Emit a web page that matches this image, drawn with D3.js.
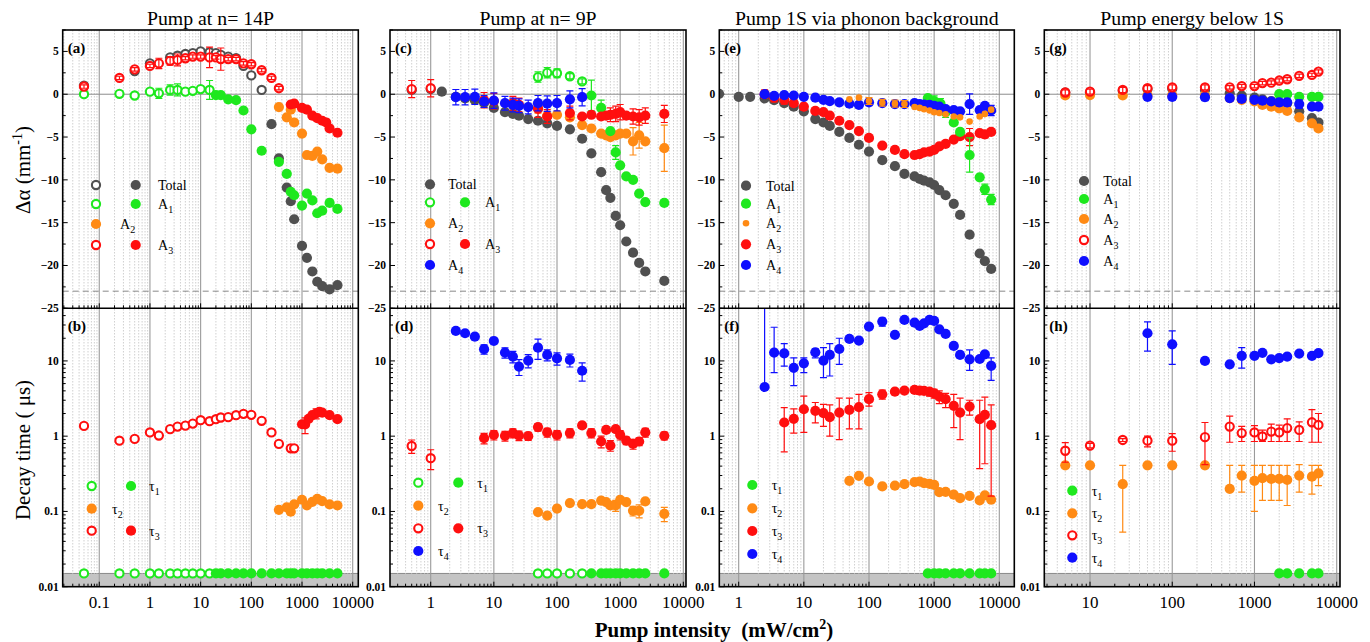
<!DOCTYPE html>
<html>
<head>
<meta charset="utf-8">
<script src="https://cdn.jsdelivr.net/npm/d3@7"></script>
<style>
  body { margin: 0; background: #fff; }
  svg { font-family: "Liberation Serif", "DejaVu Serif", serif; }
</style>
</head>
<body>
<svg id="chart" width="1370" height="642"></svg>
<script>
// ---- data (x = pump intensity mW/cm2) ----
// points: [x, y] or [x, y, err] or [x, y, lo, hi]
var titles = ["Pump at n= 14P", "Pump at n= 9P", "Pump 1S via phonon background", "Pump energy below 1S"];
var xTickLabels = [[0.1, 1, 10, 100, 1000, 10000], [1, 10, 100, 1000, 10000], [1, 10, 100, 1000, 10000], [10, 100, 1000, 10000]];
var yTopTicks = [5, 0, -5, -10, -15, -20, -25];
var yBotTicks = [0.01, 0.1, 1, 10];
var tauFloor = 0.015;   // tau1 sits at the resolution limit
var saturation = -23;   // dashed line

// (a)
var aTotalOpen = [[0.05,1.0],[0.5,2.7],[1,3.6],[2.5,4.3],[3.5,4.5],[5,4.7],[7,4.8],[10,5.0],[15,4.9],[20,4.8],[25,4.6],[35,4.4],[50,4.2],[70,3.3],[100,2.2],[160,0.5]];
var aTotal = [[250,-3.5],[350,-7.5],[500,-10.9],[600,-12.5],[700,-14.6],[1000,-17.7],[1250,-19.1],[1600,-20.7],[2000,-21.9],[2500,-22.4],[3500,-22.8],[5000,-22.3]];
var aA1Open = [[0.05,0.0],[0.25,0.05],[0.5,-0.15],[1,0.3],[1.5,0.1,0.6],[2.5,0.5,0.6],[3.5,0.5,0.7],[5,0.3],[7,0.4],[10,0.6],[15,0.5,1.1]];
var aA1 = [[20,-0.1],[25,-0.1],[35,-0.6],[50,-0.7],[70,-1.9],[100,-4.1],[160,-6.6],[350,-7.9],[500,-9.3],[600,-11.4],[700,-11.8],[1000,-13.0],[1250,-11.6],[1600,-12.4],[2000,-13.9],[2500,-13.6],[3500,-12.7],[5000,-13.4]];
var aA2 = [[350,-1.5],[500,-2.7],[600,-1.8],[700,-3.3],[1000,-4.6],[1250,-7.1],[1600,-7.2],[2000,-6.7],[2500,-7.6],[3500,-8.6],[5000,-8.7]];
var aA3Open = [[0.05,0.9,0.2],[0.25,1.9,0.2],[0.5,2.9,0.2],[1,3.3,0.2],[1.5,3.6,0.6],[2.5,3.9,0.5],[3.5,4.0,0.7],[5,4.2,0.2],[7,4.4,0.2],[10,4.4,0.2],[15,4.3,1.2],[20,4.3,0.2],[25,4.1,1.3],[35,4.1,0.2],[50,4.1,0.2],[70,3.6,0.2],[100,3.5,0.2],[160,2.8,0.2],[250,1.9,0.2],[350,0.7,0.2]];
var aA3 = [[600,-1.2],[700,-1.1],[1000,-1.6],[1250,-1.8,0.3],[1600,-2.5],[2000,-2.8],[2500,-3.1],[3000,-3.3],[3500,-4.0],[5000,-4.5]];

// (b)
var bT1OpenX = [0.05,0.25,0.5,1,1.5,2.5,3.5,5,7,10,15];
var bT1X = [20,25,35,50,70,100,160,250,350,500,600,700,1000,1250,1600,2000,2500,3500,5000];
var bT2 = [[350,0.105],[500,0.113],[600,0.099],[700,0.124],[1000,0.143],[1250,0.12],[1600,0.134],[2000,0.147],[2500,0.137],[3500,0.124],[5000,0.12]];
var bT3Open = [[0.05,1.37],[0.25,0.87],[0.5,0.92],[1,1.12],[1.5,1.02],[2.5,1.24],[3.5,1.34],[5,1.38],[7,1.47],[10,1.63],[15,1.58],[20,1.68],[25,1.77],[35,1.79],[50,1.9],[70,1.98],[100,1.92],[160,1.6],[250,1.12],[350,0.79],[600,0.69],[700,0.69]];
var bT3 = [[1000,1.44],[1150,1.43,1.08,1.75],[1350,1.7],[1600,1.9],[1900,2.0,1.7,2.3],[2200,2.1],[2500,2.05],[3500,1.9],[5000,1.68]];

// (c)
var cTotal = [[0.5,0.5],[1,0.6],[1.5,0.3],[2.5,-0.3],[3.5,-0.5],[5,-0.7],[7,-1.0],[10,-1.6],[15,-2.1],[20,-2.3],[25,-2.5],[35,-2.9],[50,-3.1],[70,-3.4],[100,-3.7],[160,-4.1],[250,-5.2],[350,-6.9],[500,-9.1],[600,-11.2],[700,-12.1],[850,-14.2],[1000,-15.3],[1250,-17.2],[1600,-18.5],[2000,-19.7],[2500,-20.7],[5000,-21.8]];
var cA1Open = [[50,2.0,0.6],[70,2.5,0.6],[100,2.45,0.5],[160,2.1,0.3],[250,1.5,0.3]];
var cA1 = [[350,-0.15,1.8],[500,-1.6,0.9],[700,-4.3],[850,-6.8,0.8],[1000,-8.3],[1250,-9.6],[1600,-10.0],[2000,-11.6],[2500,-12.6],[5000,-12.7]];
var cA2 = [[50,-1.6,0.6],[70,-2.5],[100,-2.4],[160,-2.7],[250,-3.6],[350,-4.0],[500,-4.6],[600,-4.8],[700,-5.0],[850,-4.8],[1000,-4.6],[1250,-4.6],[1600,-5.5,1.6],[2000,-4.8,1.5],[2500,-5.5],[5000,-6.3,2.7]];
var cA3Open = [[0.5,0.6,1.0],[1,0.7,1.0]];
var cA3 = [[7,-0.7,0.9],[10,-0.8,0.9],[20,-1.05,0.8],[25,-1.25,0.8],[50,-1.7,1.0],[70,-2.6,0.8],[160,-2.2,0.8],[250,-2.6],[350,-2.4],[500,-2.6],[600,-2.5],[700,-2.4,0.8],[850,-2.3,0.9],[1000,-2.1,0.9],[1250,-2.5],[1600,-2.6,0.9],[2000,-2.7,0.9],[2500,-2.5,0.9],[5000,-2.3,1.0]];
var cA4 = [[2.5,-0.35,0.9],[3.5,-0.35,0.9],[5,-0.3,0.9],[7,-0.85,0.7],[10,-0.75,0.9],[15,-1.05,0.8],[20,-1.25,0.8],[25,-1.35,0.8],[35,-1.5,0.8],[50,-1.05,0.9],[70,-1.1,0.9],[100,-1.05,0.9],[160,-0.6,1.0],[250,-0.35,1.0]];

// (d)
var dT1OpenX = [50,70,100,160,250];
var dT1X = [350,500,600,700,850,1000,1250,1600,2000,2500,5000];
var dT2 = [[50,0.098],[70,0.088],[100,0.109],[160,0.129],[250,0.125],[350,0.125,0.012],[500,0.139],[600,0.133],[700,0.12],[850,0.12,0.02],[1000,0.142],[1250,0.133],[1600,0.102,0.015],[2000,0.102,0.02],[2500,0.136],[5000,0.093,0.02]];
var dT3Open = [[0.5,0.74,0.15],[1,0.51,0.15]];
var dT3 = [[7,0.94,0.15],[10,1.04,0.15],[15,1.01,0.15],[20,1.1,0.15],[25,1.02,0.15],[35,1.0,0.12],[50,1.32,0.15],[70,1.12,0.15],[100,1.04,0.15],[160,1.1,0.15],[250,1.39,0.12],[350,1.1,0.15],[500,0.85,0.15],[600,1.21,0.1],[700,0.75,0.12],[850,1.24,0.1],[1000,1.04,0.15],[1250,0.87,0.1],[1600,0.79,0.12],[2000,0.85,0.1],[2500,1.12,0.15],[5000,1.01,0.12]];
var dT4 = [[2.5,25],[3.5,23.3],[5,21],[7,14.3,2],[10,18.4],[15,12.9,2],[20,11.4,2],[25,8.4,2],[35,10.1,2],[50,15,4.5],[70,12,2],[100,10.8,2],[160,10.3,2],[250,7.4,2]];

// (e)
var eTotal = [[0.5,0.05],[1,-0.3],[1.5,-0.3],[2.5,-0.5],[3.5,-0.7],[5,-1.05],[7,-1.45],[10,-2.0],[15,-2.9],[20,-3.3],[25,-3.7],[35,-4.4],[50,-5.1],[70,-5.9],[100,-6.7],[160,-7.7],[250,-8.4],[350,-9.3],[500,-9.6],[600,-9.9],[700,-10.1],[850,-10.3],[1000,-10.6],[1200,-11.2],[1500,-11.8],[2000,-12.8],[2500,-14.1],[3500,-16.4],[5000,-18.6],[6000,-19.5],[7500,-20.4]];
var eA1 = [[800,-0.45],[1000,-0.8,0.6],[1250,-1.1,0.6],[1500,-2.1,0.6],[2000,-3.3],[2500,-4.4],[3500,-7.1,2],[5000,-9.7],[6000,-11.1,0.6],[7500,-12.3,0.6]];
var eA2 = [[50,-0.6],[70,-0.4],[100,-0.8,0.4],[160,-1.0,0.4],[250,-1.1,0.4],[350,-1.15,0.4],[500,-1.5],[600,-1.6],[700,-1.75],[850,-1.9],[1000,-2.1],[1200,-2.2],[1500,-2.35],[2000,-2.6],[2500,-2.7],[3500,-3.2],[5000,-2.6],[6000,-2.3],[7500,-1.8]];
var eA3 = [[2.5,0,0.5],[3.5,-0.4,0.5],[5,-0.65,0.5],[7,-1.05],[10,-1.45],[15,-1.95],[20,-2.1],[25,-2.5],[35,-3.1],[50,-3.6],[70,-4.3],[100,-5.1],[160,-6.0],[250,-6.5],[350,-7.0],[500,-7.1],[600,-7.0],[700,-6.8],[850,-6.7],[1000,-6.5],[1200,-6.1],[1500,-5.8],[2000,-5.3],[2500,-4.9],[3500,-5.0,1.0],[5000,-4.55],[6000,-4.7,0.4],[7500,-4.4]];
var eA4 = [[2.5,0],[3.5,-0.2],[5,-0.1],[7,-0.15],[10,-0.3],[15,-0.4],[20,-0.65],[25,-0.8],[35,-0.95],[50,-1.1],[70,-1.25],[100,-0.95],[160,-1.05],[250,-1.15],[350,-1.15],[500,-1.05],[600,-1.15],[700,-1.2],[850,-1.25],[1000,-1.35],[1200,-1.45],[1500,-1.75],[2000,-1.85],[2500,-2.0],[3500,-1.15,1.2],[5000,-1.85],[6000,-1.35],[7500,-1.9,0.6]];

// (f)
var fT1X = [800,1000,1200,1500,2000,2500,3500,5000,6000,7500];
var fT2 = [[50,0.255],[70,0.297],[100,0.25],[160,0.215],[250,0.22],[350,0.23],[500,0.245],[600,0.25],[700,0.238],[850,0.233],[1000,0.226],[1200,0.18],[1500,0.182],[2000,0.167],[2500,0.15],[3500,0.161],[5000,0.14],[6000,0.163],[7500,0.143]];
var fT3 = [[5,1.52,0.62,2.4],[7,1.7,1.1,2.3],[10,2.28,1.12,3.4],[15,2.17,1.5,2.8],[20,2.02,1.35,2.65],[25,1.79,1.0,2.6],[35,2.06,0.9,3.2],[50,2.24,1.25,3.2],[70,2.43,1.25,3.6],[100,3.1,2.5,3.8],[160,3.6,3.1,4.1],[250,3.9,3.6,4.2],[350,4.04,3.7,4.3],[500,4.12,3.8,4.4],[600,4.04,3.6,4.4],[700,4.0,3.6,4.4],[850,3.9,3.4,4.3],[1000,3.7,3.2,4.2],[1200,3.36,2.7,4.0],[1500,3.1,2.4,3.7],[2000,2.53,1.3,3.6],[2500,2.06,0.9,3.2],[3500,2.47,1.9,3.0],[5000,1.68,0.37,3.0],[6000,1.92,0.43,3.3],[7500,1.4,0.16,2.6]];
var fT4 = [[2.5,4.5,4.5,60],[3.5,12.9,7,28],[5,12.6,8.5,17],[7,8.1,4.7,11],[10,9.3,7,11],[15,13.0,11,14.5],[20,10.1,6,15],[25,12.0,6.3,17],[35,14.4,9,20],[50,19.6],[70,18.6],[100,28.6],[160,33.3,29,37],[250,22.2],[350,35],[500,32.2],[600,29.2],[700,31.5],[850,35],[1000,34],[1200,26.3],[1500,22.8],[2000,15.8],[2500,12.0],[3500,10.5,7.5,14],[5000,10.6],[6000,12.2],[7500,8.6,5.5,11]];

// (g)
var gTotal = [[5,0.2],[10,0.23],[25,0.4],[50,0.6],[100,0.65],[250,0.5],[500,0.1],[700,-0.15],[1000,-0.4],[1250,-0.6],[1600,-0.8],[2000,-1.0],[2500,-1.05],[3500,-2.0],[5000,-2.8],[6000,-3.3]];
var gA1 = [[2000,0],[2500,0],[3500,-0.3],[5000,-0.3],[6000,-0.3]];
var gA2 = [[5,-0.15],[10,-0.1],[25,-0.15],[50,-0.1],[100,-0.1],[250,-0.1],[500,-0.45],[700,-0.65],[1000,-0.85],[1250,-1.25],[1600,-1.45],[2000,-1.65],[2500,-1.95],[3500,-2.7],[5000,-3.4],[6000,-4.0]];
var gA3Open = [[5,0.2,0.3],[10,0.3,0.3],[25,0.5,0.3],[50,0.7,0.3],[100,0.8,0.3],[250,0.8,0.3],[500,0.8,0.2],[700,0.95,0.2],[1000,0.95,0.2],[1250,1.3,0.2],[1600,1.35,0.2],[2000,1.6,0.2],[2500,1.75,0.2],[3500,2.15,0.2],[5000,2.25,0.2],[6000,2.65,0.2]];
var gA4 = [[50,-0.3,0.4],[100,-0.3,0.4],[250,-0.35,0.4],[500,-0.45,0.4],[700,-0.55,0.4],[1000,-0.65,0.3],[1250,-0.75,0.3],[1600,-0.85,0.3],[2000,-0.95,0.4],[2500,-0.95,0.4],[3500,-1.15,0.5],[5000,-1.45],[6000,-1.45]];

// (h)
var hT1X = [2000,2500,3500,5000,6000];
var hT2 = [[5,0.41],[10,0.41],[25,0.23,0.053,0.41],[50,0.41],[100,0.41],[250,0.41],[500,0.2,0.2,0.41],[700,0.3,0.18,0.41],[1000,0.255,0.1,0.41],[1250,0.277,0.14,0.41],[1600,0.27,0.14,0.41],[2000,0.27,0.14,0.41],[2500,0.263,0.12,0.41],[3500,0.3,0.18,0.42],[5000,0.29,0.17,0.41],[6000,0.32,0.22,0.41]];
var hT3Open = [[5,0.64,0.45,0.82],[10,0.75,0.7,0.8],[25,0.89,0.85,0.93],[50,0.87,0.72,1.0],[100,0.87,0.63,1.08],[250,0.97,0.42,1.52],[500,1.34,0.83,1.85],[700,1.1,0.85,1.35],[1000,1.12,0.85,1.38],[1250,0.99,0.85,1.2],[1600,1.15,0.85,1.45],[2000,1.12,0.85,1.4],[2500,1.28,0.85,1.7],[3500,1.21,0.85,1.55],[5000,1.53,0.83,2.25],[6000,1.41,0.83,2.0]];
var hT4 = [[50,23.3,13.5,33],[100,16.6,9,25],[250,10],[500,9.0],[700,11.7,8,15],[1000,11.7],[1250,12.8],[1600,10.5],[2000,10.9],[2500,11.4],[3500,12.5],[5000,11.7],[6000,12.7]];

// ---- style ----
var GRAY = "#505050", GREEN = "#1ee81e", ORANGE = "#ff8a14", RED = "#ff0f0f", BLUE = "#0f0fff";

function atFloor(xs) { return xs.map(function(x) { return [x, tauFloor]; }); }

// layout of the four columns (frame edges) and x domains
var cols = [
  {x0: 62.7,  x1: 358.3, dom: [0.019, 12900]},
  {x0: 390,   x1: 686,   dom: [0.2267, 11030]},
  {x0: 719.3, x1: 1014.3, dom: [0.504, 16990]},
  {x0: 1044.3, x1: 1340, dom: [2.78, 10970]}
];
var topY0 = 30, midY = 308.3, botY1 = 586.7;

var topSeries = [
  [ {d: aTotalOpen, c: GRAY, open: true}, {d: aA1Open, c: GREEN, open: true}, {d: aA3Open, c: RED, open: true},
    {d: aTotal, c: GRAY}, {d: aA1, c: GREEN}, {d: aA2, c: ORANGE}, {d: aA3, c: RED} ],
  [ {d: cTotal, c: GRAY}, {d: cA2, c: ORANGE}, {d: cA1Open, c: GREEN, open: true}, {d: cA1, c: GREEN},
    {d: cA3Open, c: RED, open: true}, {d: cA3, c: RED}, {d: cA4, c: BLUE} ],
  [ {d: eTotal, c: GRAY}, {d: eA3, c: RED}, {d: eA1, c: GREEN}, {d: eA4, c: BLUE}, {d: eA2, c: ORANGE, r: 3.3} ],
  [ {d: gTotal, c: GRAY}, {d: gA2, c: ORANGE}, {d: gA1, c: GREEN}, {d: gA4, c: BLUE}, {d: gA3Open, c: RED, open: true} ]
];
var botSeries = [
  [ {d: atFloor(bT1OpenX), c: GREEN, open: true}, {d: atFloor(bT1X), c: GREEN}, {d: bT2, c: ORANGE},
    {d: bT3Open, c: RED, open: true}, {d: bT3, c: RED} ],
  [ {d: atFloor(dT1OpenX), c: GREEN, open: true}, {d: atFloor(dT1X), c: GREEN}, {d: dT2, c: ORANGE},
    {d: dT3Open, c: RED, open: true}, {d: dT3, c: RED}, {d: dT4, c: BLUE} ],
  [ {d: atFloor(fT1X), c: GREEN}, {d: fT2, c: ORANGE}, {d: fT3, c: RED}, {d: fT4, c: BLUE} ],
  [ {d: atFloor(hT1X), c: GREEN}, {d: hT2, c: ORANGE}, {d: hT3Open, c: RED, open: true}, {d: hT4, c: BLUE} ]
];

// legends: rows of [y, marks [[x, color, open, r]], label, sub, textX]
var legends = [
  [ [185, [[96,GRAY,1],[135.7,GRAY,0]], "Total", "", 158], [204, [[96,GREEN,1],[135.7,GREEN,0]], "A", "1", 158],
    [224, [[96,ORANGE,0]], "A", "2", 120], [245, [[96,RED,1],[135.7,RED,0]], "A", "3", 158] ],
  [ [486, [[91.7,GREEN,1],[131,GREEN,0]], "τ", "1", 149], [508.7, [[91.7,ORANGE,0]], "τ", "2", 112],
    [530.7, [[91.7,RED,1],[131,RED,0]], "τ", "3", 149] ],
  [ [184.3, [[430,GRAY,0]], "Total", "", 448], [202.3, [[430,GREEN,1],[465,GREEN,0]], "A", "1", 485],
    [223.3, [[430,ORANGE,0]], "A", "2", 448], [244, [[430,RED,1],[465,RED,0]], "A", "3", 485],
    [265, [[430,BLUE,0]], "A", "4", 448] ],
  [ [482.7, [[418.3,GREEN,1],[458.3,GREEN,0]], "τ", "1", 477.3], [505.7, [[418.3,ORANGE,0]], "τ", "2", 438],
    [528.3, [[418.3,RED,1],[458.3,RED,0]], "τ", "3", 477.3], [551, [[418.3,BLUE,0]], "τ", "4", 438] ],
  [ [185.7, [[746,GRAY,0]], "Total", "", 766], [203.7, [[746,GREEN,0]], "A", "1", 766],
    [223.3, [[746,ORANGE,0,3.3]], "A", "2", 766], [244.3, [[746,RED,0]], "A", "3", 766], [265, [[746,BLUE,0]], "A", "4", 766] ],
  [ [485, [[752.3,GREEN,0]], "τ", "1", 771.7], [508.3, [[752.3,ORANGE,0]], "τ", "2", 771.7],
    [531, [[752.3,RED,0]], "τ", "3", 771.7], [554, [[752.3,BLUE,0]], "τ", "4", 771.7] ],
  [ [181, [[1084,GRAY,0]], "Total", "", 1103.3], [199, [[1084,GREEN,0]], "A", "1", 1103.3],
    [219, [[1084,ORANGE,0]], "A", "2", 1103.3], [240, [[1084,RED,1]], "A", "3", 1103.3], [261, [[1084,BLUE,0]], "A", "4", 1103.3] ],
  [ [490.7, [[1072.3,GREEN,0]], "τ", "1", 1091.7], [513.3, [[1072.3,ORANGE,0]], "τ", "2", 1091.7],
    [535.3, [[1072.3,RED,1]], "τ", "3", 1091.7], [557.7, [[1072.3,BLUE,0]], "τ", "4", 1091.7] ]
];
var letters = ["(a)", "(b)", "(c)", "(d)", "(e)", "(f)", "(g)", "(h)"];

var svg = d3.select("#chart");
var fmtTick = function(v) { return v < 0 ? "\u2212" + Math.abs(v) : String(v); };

function marker(g, x, y, color, open, r) {
  if (open) {
    g.append("circle").attr("cx", x).attr("cy", y).attr("r", r ? r - 0.7 : 4.1)
      .attr("fill", "#fff").attr("stroke", color).attr("stroke-width", 2.1);
  } else {
    g.append("circle").attr("cx", x).attr("cy", y).attr("r", r || 5.1).attr("fill", color);
  }
}

function drawPoints(g, xs, ys, series, isLog) {
  series.forEach(function(s) {
    var sg = g.append("g");
    s.d.forEach(function(p) {
      var px = xs(p[0]), py = ys(p[1]);
      marker(sg, px, py, s.c, s.open, s.r);
    });
    // error bars drawn over markers
    s.d.forEach(function(p) {
      if (p.length < 3) return;
      var lo = p.length === 4 ? p[2] : p[1] - p[2];
      var hi = p.length === 4 ? p[3] : p[1] + p[2];
      if (isLog && lo <= 0) lo = p[1];
      var px = xs(p[0]);
      var ylo = ys(lo), yhi = ys(hi);
      sg.append("line").attr("x1", px).attr("x2", px).attr("y1", ylo).attr("y2", yhi)
        .attr("stroke", s.c).attr("stroke-width", 1.2);
      [lo, hi].forEach(function(v) {
        if (v === p[1]) return;
        sg.append("line").attr("x1", px - 3.5).attr("x2", px + 3.5).attr("y1", ys(v)).attr("y2", ys(v))
          .attr("stroke", s.c).attr("stroke-width", 1.2);
      });
    });
  });
}

function logMinor(dom) {
  var out = [];
  for (var e = Math.floor(Math.log10(dom[0])); e <= Math.ceil(Math.log10(dom[1])); e++) {
    for (var k = 1; k <= 9; k++) {
      var v = k * Math.pow(10, e);
      if (v >= dom[0] && v <= dom[1]) out.push({v: v, major: k === 1});
    }
  }
  return out;
}

cols.forEach(function(col, ci) {
  var xs = d3.scaleLog().domain(col.dom).range([col.x0, col.x1]);
  var yTop = d3.scaleLinear().domain([-25, 7.5]).range([midY, topY0]);
  var yBot = d3.scaleLog().domain([0.01, 50]).range([botY1, midY]);
  var g = svg.append("g");

  var clipT = "clipT" + ci, clipB = "clipB" + ci;
  var defs = svg.append("defs");
  defs.append("clipPath").attr("id", clipT).append("rect")
    .attr("x", col.x0).attr("y", topY0).attr("width", col.x1 - col.x0).attr("height", midY - topY0);
  defs.append("clipPath").attr("id", clipB).append("rect")
    .attr("x", col.x0).attr("y", midY).attr("width", col.x1 - col.x0).attr("height", botY1 - midY);

  // gray band for the time resolution limit
  g.append("rect").attr("x", col.x0).attr("y", yBot(tauFloor)).attr("width", col.x1 - col.x0)
    .attr("height", botY1 - yBot(tauFloor)).attr("fill", "#c4c4c4");
  g.append("line").attr("x1", col.x0).attr("x2", col.x1).attr("y1", yBot(tauFloor)).attr("y2", yBot(tauFloor))
    .attr("stroke", "#8a8a8a").attr("stroke-width", 1);

  // vertical grid
  var grid = logMinor(col.dom);
  g.selectAll(".grid").data(grid).enter().append("line")
    .attr("x1", function(d) { return xs(d.v); }).attr("x2", function(d) { return xs(d.v); })
    .attr("y1", topY0).attr("y2", botY1)
    .attr("stroke", function(d) { return d.major ? "#9a9a9a" : "#c4c4c4"; })
    .attr("stroke-width", function(d) { return d.major ? 1.1 : 0.8; })
    .attr("stroke-dasharray", function(d) { return d.major ? null : "1.5,1.5"; });

  // zero and saturation lines
  g.append("line").attr("x1", col.x0).attr("x2", col.x1).attr("y1", yTop(0)).attr("y2", yTop(0))
    .attr("stroke", "#8c8c8c").attr("stroke-width", 1);
  g.append("line").attr("x1", col.x0).attr("x2", col.x1).attr("y1", yTop(saturation)).attr("y2", yTop(saturation))
    .attr("stroke", "#7a7a7a").attr("stroke-width", 0.9).attr("stroke-dasharray", "6,4");

  // ticks (inward)
  [midY, botY1].forEach(function(yb) {
    g.selectAll(null).data(grid).enter().append("line")
      .attr("x1", function(d) { return xs(d.v); }).attr("x2", function(d) { return xs(d.v); })
      .attr("y1", yb).attr("y2", function(d) { return yb - (d.major ? 5 : 3); })
      .attr("stroke", "#000").attr("stroke-width", 1);
  });
  d3.range(-25, 7.6, 2.5).forEach(function(v) {
    var major = v % 5 === 0;
    g.append("line").attr("x1", col.x0).attr("x2", col.x0 + (major ? 5 : 3))
      .attr("y1", yTop(v)).attr("y2", yTop(v)).attr("stroke", "#000").attr("stroke-width", 1);
  });
  logMinor([0.01, 50]).forEach(function(d) {
    g.append("line").attr("x1", col.x0).attr("x2", col.x0 + (d.major ? 5 : 3))
      .attr("y1", yBot(d.v)).attr("y2", yBot(d.v)).attr("stroke", "#000").attr("stroke-width", 1);
  });

  // tick labels
  g.selectAll(null).data(yTopTicks).enter().append("text")
    .attr("x", col.x0 - 4).attr("y", function(d) { return yTop(d) + 4; })
    .attr("text-anchor", "end").attr("font-size", 11.5).attr("font-weight", "bold")
    .text(fmtTick);
  g.selectAll(null).data(yBotTicks).enter().append("text")
    .attr("x", col.x0 - 4).attr("y", function(d) { return yBot(d) + 4; })
    .attr("text-anchor", "end").attr("font-size", 11.5).attr("font-weight", "bold")
    .text(function(d) { return String(d); });
  g.selectAll(null).data(xTickLabels[ci]).enter().append("text")
    .attr("x", function(d) { return xs(d); }).attr("y", 608)
    .attr("text-anchor", "middle").attr("font-size", 17)
    .text(function(d) { return String(d); });

  // data
  drawPoints(g.append("g").attr("clip-path", "url(#" + clipT + ")"), xs, yTop, topSeries[ci], false);
  drawPoints(g.append("g").attr("clip-path", "url(#" + clipB + ")"), xs, yBot, botSeries[ci], true);

  // frame
  g.append("rect").attr("x", col.x0).attr("y", topY0).attr("width", col.x1 - col.x0).attr("height", botY1 - topY0)
    .attr("fill", "none").attr("stroke", "#000").attr("stroke-width", 1.6);
  g.append("line").attr("x1", col.x0).attr("x2", col.x1).attr("y1", midY).attr("y2", midY)
    .attr("stroke", "#000").attr("stroke-width", 1.6);

  // panel letters and title
  g.append("text").attr("x", col.x0 + 5).attr("y", 53).attr("font-size", 15).attr("font-weight", "bold").text(letters[ci * 2]);
  g.append("text").attr("x", col.x0 + 5).attr("y", 331).attr("font-size", 15).attr("font-weight", "bold").text(letters[ci * 2 + 1]);
  g.append("text").attr("x", (col.x0 + col.x1) / 2).attr("y", 25).attr("text-anchor", "middle")
    .attr("font-size", 19.8).text(titles[ci]);
});

// legends
legends.forEach(function(rows) {
  var lg = svg.append("g");
  rows.forEach(function(row) {
    row[1].forEach(function(m) { marker(lg, m[0], row[0], m[1], m[2], m[3]); });
    var t = lg.append("text").attr("x", row[4]).attr("y", row[0] + 5).attr("font-size", 14).text(row[2]);
    if (row[3]) t.append("tspan").attr("font-size", 10).attr("dy", 4).text(row[3]);
  });
});

// axis titles
var yl1 = svg.append("text").attr("transform", "translate(30,170) rotate(-90)").attr("text-anchor", "middle")
  .attr("font-size", 21).text("\u0394\u03b1 (mm");
yl1.append("tspan").attr("font-size", 14).attr("dy", -8).text("-1");
yl1.append("tspan").attr("dy", 8).text(")");
svg.append("text").attr("transform", "translate(30,450) rotate(-90)").attr("text-anchor", "middle")
  .attr("font-size", 21).text("Decay time ( \u03bcs)");
var xl = svg.append("text").attr("x", 714).attr("y", 637).attr("text-anchor", "middle")
  .attr("font-size", 21).attr("font-weight", "bold").style("white-space", "pre").text("Pump intensity  (mW/cm");
xl.append("tspan").attr("font-size", 14).attr("dy", -8).text("2");
xl.append("tspan").attr("dy", 8).text(")");
</script>
</body>
</html>
